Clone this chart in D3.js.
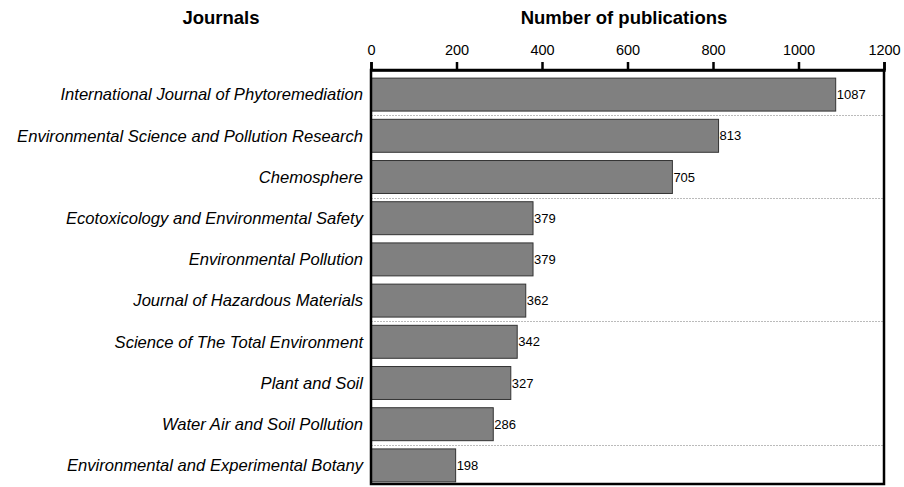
<!DOCTYPE html>
<html>
<head>
<meta charset="utf-8">
<script src="https://cdn.jsdelivr.net/npm/d3@7"></script>
<style>
  body { margin: 0; background: #fff; }
  svg { font-family: "Liberation Sans", Arial, sans-serif; }
</style>
</head>
<body>
<svg id="chart" width="904" height="487"></svg>
<script>
var journals = [
    "International Journal of Phytoremediation",
    "Environmental Science and Pollution Research",
    "Chemosphere",
    "Ecotoxicology and Environmental Safety",
    "Environmental Pollution",
    "Journal of Hazardous Materials",
    "Science of The Total Environment",
    "Plant and Soil",
    "Water Air and Soil Pollution",
    "Environmental and Experimental Botany"
];
var publications = [1087, 813, 705, 379, 379, 362, 342, 327, 286, 198];
var xTicks = [0, 200, 400, 600, 800, 1000, 1200];
// rows where a new group starts (dotted separator above them)
var groupStarts = [1, 3, 6, 9];

var svg = d3.select("#chart"),
    MARGINS = {top: 70, right: 20, bottom: 3, left: 371},
    WIDTH = 904, HEIGHT = 487;

var xScale = d3.scaleLinear()
    .domain([0, 1200])
    .range([MARGINS.left, WIDTH - MARGINS.right]);

var yScale = d3.scaleBand()
    .domain(journals)
    .range([74, 486])
    .paddingInner(0.2)
    .paddingOuter(0.1);

var step = yScale.step();
var sepY = function(d) { return Math.round(yScale(journals[d]) - step * yScale.paddingInner() / 2) + 0.5; };

// dotted separators
svg.append("g").selectAll("line")
    .data(groupStarts)
    .enter().append("line")
    .attr("x1", MARGINS.left)
    .attr("x2", WIDTH - MARGINS.right)
    .attr("y1", sepY)
    .attr("y2", sepY)
    .attr("stroke", "#bbb")
    .attr("stroke-width", 1)
    .attr("stroke-dasharray", "2,1");

// bars
svg.append("g").selectAll("rect")
    .data(publications)
    .enter().append("rect")
    .attr("x", xScale(0))
    .attr("y", function(d, i) { return yScale(journals[i]); })
    .attr("width", function(d) { return xScale(d) - xScale(0); })
    .attr("height", yScale.bandwidth())
    .attr("fill", "#808080")
    .attr("stroke", "#333")
    .attr("stroke-width", 1);

// value labels
svg.append("g").selectAll("text")
    .data(publications)
    .enter().append("text")
    .attr("x", function(d) { return xScale(d) + 1; })
    .attr("y", function(d, i) { return yScale(journals[i]) + yScale.bandwidth() / 2; })
    .attr("dy", "0.35em")
    .attr("font-size", 13)
    .attr("fill", "#000")
    .text(function(d) { return d; });

// journal names
svg.append("g").selectAll("text")
    .data(journals)
    .enter().append("text")
    .attr("x", MARGINS.left - 8)
    .attr("y", function(d) { return yScale(d) + yScale.bandwidth() / 2; })
    .attr("dy", "0.35em")
    .attr("text-anchor", "end")
    .attr("font-style", "italic")
    .attr("font-size", 16.6)
    .attr("fill", "#000")
    .text(function(d) { return d; });

// frame
svg.append("rect")
    .attr("x", MARGINS.left)
    .attr("y", MARGINS.top)
    .attr("width", xScale(1200) - xScale(0))
    .attr("height", HEIGHT - MARGINS.bottom - MARGINS.top)
    .attr("fill", "none")
    .attr("stroke", "#000")
    .attr("stroke-width", 2.5);

// top axis
var xAxis = d3.axisTop(xScale).tickValues(xTicks).tickFormat(d3.format("d")).tickSize(8).tickPadding(7);
var gx = svg.append("g")
    .attr("transform", "translate(0," + MARGINS.top + ")")
    .call(xAxis);
gx.select(".domain").attr("stroke-width", 2.5);
gx.selectAll(".tick line").attr("stroke-width", 2.5);
gx.selectAll(".tick text")
    .attr("font-size", 14.5)
    .attr("font-family", "Liberation Sans, Arial, sans-serif")
    .attr("fill", "#000");

// titles
svg.append("text")
    .attr("x", 624)
    .attr("y", 24)
    .attr("text-anchor", "middle")
    .attr("font-weight", "bold")
    .attr("font-size", 18.5)
    .text("Number of publications");

svg.append("text")
    .attr("x", 221)
    .attr("y", 24)
    .attr("text-anchor", "middle")
    .attr("font-weight", "bold")
    .attr("font-size", 18.5)
    .text("Journals");
</script>
</body>
</html>
